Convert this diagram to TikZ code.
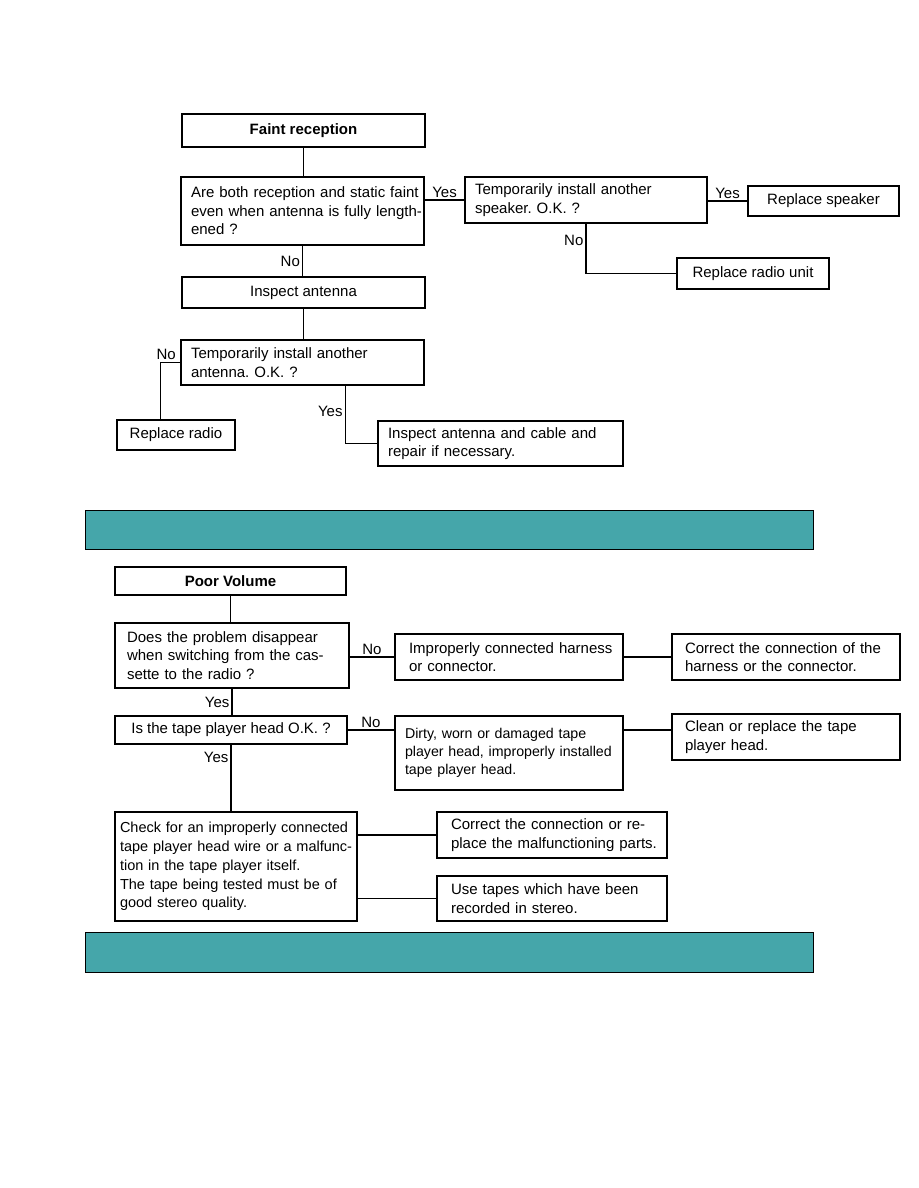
\documentclass[tikz,border=0pt]{standalone}
\usepackage{fontspec}
\setmainfont{Liberation Sans}
\frenchspacing
\usetikzlibrary{calc}
\definecolor{barteal}{RGB}{69,166,170}
\tikzset{
	every node/.style={font=\fontsize{15}{18.5}\selectfont},
	flow/.style={draw, line width=1.6pt, inner ysep=0pt, align=left,
		execute at begin node={\rightskip=0pt plus 1fil minus 40pt}},
	single/.style={draw, line width=1.6pt, inner sep=0pt, align=center},
	wire/.style={line width=1.3pt},
	answer/.style={inner sep=2pt},
}

\begin{document}
\begin{tikzpicture}[x=1pt, y=-1pt]
		%%%%% START %%%%%
		\useasboundingbox (0, 0) rectangle (918, 1188);
		
		%% faint reception
		\node[single, minimum width=243pt, minimum height=33pt] (faint) at (303.5, 130.5) {\textbf{Faint reception}};
		\node[flow, inner xsep=10pt, text width=223pt, minimum height=68pt] (bothq) at (302.5, 211) {Are both reception and static faint\\ even when antenna is fully length-\\ ened ?};
		\node[flow, inner xsep=10pt, text width=222pt, minimum height=46pt] (speakq) at (586, 200) {Temporarily install another\\ speaker. O.K. ?};
		\node[single, minimum width=151pt, minimum height=30pt] (rspeak) at (823.5, 201) {Replace speaker};
		\node[single, minimum width=152pt, minimum height=31pt] (runit) at (753, 273.5) {Replace radio unit};
		\node[single, minimum width=243pt, minimum height=31pt] (inspant) at (303.5, 292.5) {Inspect antenna};
		\node[flow, inner xsep=10pt, text width=223pt, minimum height=45pt] (antq) at (302.5, 362.5) {Temporarily install another\\ antenna. O.K. ?};
		\node[single, minimum width=118pt, minimum height=30pt] (rradio) at (176, 435) {Replace radio};
		\node[flow, inner xsep=10pt, text width=225pt, minimum height=45pt] (cable) at (500.5, 443.5) {Inspect antenna and cable and\\ repair if necessary.};
		
		\coordinate (nofork) at ([xshift=44pt]rradio.north west);
		\coordinate (yesfork) at ([xshift=165pt]antq.south west);
		
		\draw[wire] (faint.south) -- (faint.south |- bothq.north);
		\draw[wire] (speakq.west -| bothq.east) -- node[answer, above] {Yes} (speakq.west);
		\draw[wire] (rspeak.west -| speakq.east) -- node[answer, above] {Yes} (rspeak.west);
		\draw[wire] (speakq.south) |- node[answer, left, pos=0.17] {No} (runit.west);
		\draw[wire] (bothq.south) -- node[answer, left] {No} (bothq.south |- inspant.north);
		\draw[wire] (inspant.south) -- (inspant.south |- antq.north);
		\draw[wire] (antq.west) -| node[answer, above, pos=0.35] {No} (nofork);
		\draw[wire] (yesfork) |- node[answer, left, pos=0.22] {Yes} (cable.west);
		
		\draw[fill=barteal, line width=1pt] (85, 510) rectangle (813, 549);
		
		%% poor volume
		\node[single, minimum width=231pt, minimum height=28pt] (poor) at (230.5, 581) {\textbf{Poor Volume}};
		\node[flow, inner xsep=12pt, text width=210pt, minimum height=65pt] (switchq) at (232, 655.5) {Does the problem disappear\\ when switching from the cas-\\ sette to the radio ?};
		\node[flow, inner xsep=14pt, text width=200pt, minimum height=46pt] (harness) at (509, 657) {Improperly connected harness\\ or connector.};
		\node[flow, inner xsep=13pt, text width=202pt, minimum height=46pt] (fixharness) at (786, 657) {Correct the connection of the\\ harness or the connector.};
		\node[single, minimum width=232pt, minimum height=28pt] (headq) at (231, 730) {Is the tape player head O.K. ?};
		\node[flow, inner xsep=10pt, text width=208pt, minimum height=74pt, font=\fontsize{14.2}{18.3}\selectfont] (dirty) at (509, 753) {Dirty, worn or damaged tape\\ player head, improperly installed\\ tape player head.};
		\node[flow, inner xsep=13pt, text width=202pt, minimum height=46pt] (clean) at (786, 737) {Clean or replace the tape\\ player head.};
		\node[flow, inner xsep=5pt, text width=232pt, minimum height=109pt, font=\fontsize{14.5}{18.8}\selectfont] (check) at (236, 866.5) {Check for an improperly connected\\ tape player head wire or a malfunc-\\ tion in the tape player itself.\\ The tape being tested must be of\\ good stereo quality.};
		\node[flow, inner xsep=14pt, text width=202pt, minimum height=46pt] (fixparts) at (552, 835) {Correct the connection or re-\\ place the malfunctioning parts.};
		\node[flow, inner xsep=14pt, text width=202pt, minimum height=45pt] (stereo) at (552, 898.5) {Use tapes which have been\\ recorded in stereo.};
		
		\draw[wire] (poor.south) -- (poor.south |- switchq.north);
		\draw[wire] (harness.west -| switchq.east) -- node[answer, above] {No} (harness.west);
		\draw[wire] (harness.east) -- (fixharness.west);
		\draw[wire] (switchq.south) -- node[answer, left] {Yes} (switchq.south |- headq.north);
		\draw[wire] (headq.east) -- node[answer, above] {No} (headq.east -| dirty.west);
		\draw[wire] (headq.east -| dirty.east) -- (headq.east -| clean.west);
		\draw[wire] (headq.south) -- node[answer, left, pos=0.19] {Yes} (headq.south |- check.north);
		\draw[wire] (fixparts.west -| check.east) -- (fixparts.west);
		\draw[wire] (stereo.west -| check.east) -- (stereo.west);
		
		\draw[fill=barteal, line width=1pt] (85, 932) rectangle (813, 972);
		
		%%%%% END %%%%%
	\end{tikzpicture}
\end{document}
